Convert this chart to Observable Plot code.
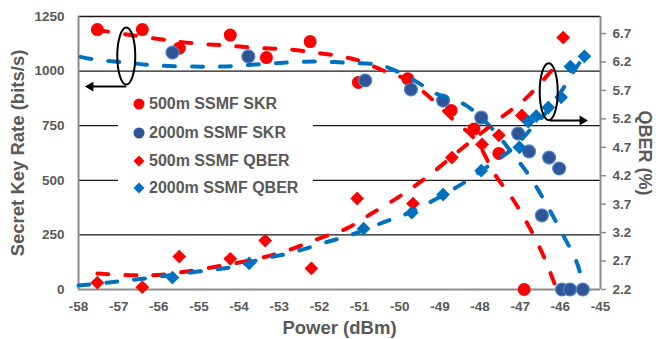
<!DOCTYPE html>
<html><head><meta charset="utf-8">
<script src="https://cdn.jsdelivr.net/npm/d3@7"></script>
<script src="https://cdn.jsdelivr.net/npm/@observablehq/plot@0.6"></script>
<style>
body{margin:0;background:#fff;}
#wrap{position:relative;width:656px;height:339px;font-family:"Liberation Sans",Arial,sans-serif;}
#legend{position:absolute;left:118px;top:92px;width:195px;height:108px;background:#fff;}
.row{position:absolute;left:0;height:22px;display:flex;align-items:center;font-weight:bold;font-size:16px;color:#595959;white-space:nowrap;}
.row svg{margin-right:3px;}
</style></head><body><div id="wrap"></div>
<script>
// ---- axes ----
const xTicks = [-58,-57,-56,-55,-54,-53,-52,-51,-50,-49,-48,-47,-46,-45];
const skrTicks = [0,250,500,750,1000,1250];
const qberTicks = [2.2,2.7,3.2,3.7,4.2,4.7,5.2,5.7,6.2,6.7];
const Q_MIN = 2.2, Q_MAX = 7.0, SKR_MAX = 1250;

// ---- measured points ----
const p500Skr = [-57.53,-56.41,-55.49,-54.22,-53.32,-52.23,-51.03,-49.8,-48.72,-48.15,-47.53,-46.9];
const v500Skr = [1190,1190,1105,1165,1062,1135,948,965,820,735,623,0];

const p2000Skr = [-55.66,-53.77,-50.86,-49.72,-48.92,-47.97,-47.05,-46.78,-46.46,-46.28,-46.03,-45.96,-45.76,-45.44];
const v2000Skr = [1085,1067,957,916,865,787,714,632,339,604,554,0,0,0];

const p500Q = [-57.53,-56.41,-55.49,-54.22,-53.35,-52.2,-51.06,-49.67,-48.7,-47.95,-47.53,-46.96,-45.93];
const v500Q = [2.32,2.24,2.78,2.74,3.06,2.57,3.80,3.71,4.52,4.75,4.91,5.26,6.63];

const p2000Q = [-55.66,-53.75,-50.9,-49.7,-48.92,-47.97,-47.02,-46.8,-46.6,-46.3,-45.98,-45.75,-45.4];
const v2000Q = [2.41,2.66,3.27,3.55,3.87,4.29,4.7,5.15,5.25,5.4,5.58,6.12,6.3];

// ---- trend lines ----
const pFit500Skr = [-57.53,-55.81,-55.06,-54.32,-53.52,-52.73,-51.96,-51.31,-50.99,-50.44,-49.79,-49.19,-48.70,-48.10,-47.63,-47.18,-46.78,-46.39,-46.12];
const vFit500Skr = [1188,1142,1126,1117,1106,1099,1081,1062,1046,1005,957,870,783,682,527,412,288,142,14];

const pFit2000Skr = [-57.95,-57.60,-56.81,-56.08,-55.21,-54.42,-53.60,-52.80,-52.03,-51.23,-50.46,-49.72,-49.09,-48.34,-47.70,-47.23,-46.76,-46.33,-45.94,-45.59,-45.46];
const vFit2000Skr = [1065,1053,1039,1026,1021,1021,1030,1039,1044,1037,1026,966,897,842,737,632,517,385,252,124,41];

const pFit500Q = [-57.53,-56.68,-55.94,-54.84,-53.55,-52.78,-52.00,-51.33,-50.69,-50.04,-49.37,-48.45,-47.50,-46.86,-46.18];
const vFit500Q = [2.48,2.45,2.46,2.57,2.74,2.89,3.10,3.27,3.54,3.82,4.15,4.68,5.21,5.56,6.08];

const pFit2000Q = [-58.0,-57.30,-56.51,-55.19,-54.22,-53.40,-52.68,-51.93,-51.18,-50.41,-49.69,-48.95,-48.35,-47.60,-47.18,-46.76,-46.31,-45.96,-45.59,-45.39];
const vFit2000Q = [2.27,2.32,2.38,2.50,2.59,2.74,2.85,3.01,3.17,3.38,3.57,3.85,4.10,4.47,4.68,5.0,5.35,5.7,6.12,6.31];

// ---- annotations (data units on the left axis) ----
const ellipseX = [-56.81,-46.29];
const ellipseY = [1069,906];
const arrowX1 = [-56.81,-46.26];
const arrowX2 = [-57.7,-45.45];
const arrowY = [929,774];
const arrowRot = [-90,90];

// ---- legend ----
const legendLabels = ["500m SSMF SKR","2000m SSMF SKR","500m SSMF QBER","2000m SSMF QBER"];
const legendColors = ["#FF0000","#2E5597","#FF0000","#0070C0"];
const legendShapes = ["circle","circle","diamond","diamond"];

const RED = "#FF0000", DBLUE = "#2E5597", BLUE = "#0070C0";
const qToY = q => (q - Q_MIN) / (Q_MAX - Q_MIN) * SKR_MAX;
const yToQ = y => Q_MIN + y / SKR_MAX * (Q_MAX - Q_MIN);

const zip = (xs, ys, f = d => d) => xs.map((x, i) => ({x, y: f(ys[i])}));

const s500 = zip(p500Skr, v500Skr);
const s2000 = zip(p2000Skr, v2000Skr);
const q500 = zip(p500Q, v500Q, qToY);
const q2000 = zip(p2000Q, v2000Q, qToY);
const f500 = zip(pFit500Skr, vFit500Skr);
const f2000 = zip(pFit2000Skr, vFit2000Skr);
const fq500 = zip(pFit500Q, vFit500Q, qToY);
const fq2000 = zip(pFit2000Q, vFit2000Q, qToY);
const ellipses = ellipseX.map((x, i) => ({x, y: ellipseY[i]}));
const arrows = arrowX1.map((x1, i) => ({x1, x2: arrowX2[i], y: arrowY[i], rot: arrowRot[i]}));

const ellipseSymbol = {
  draw(ctx) {
    const rx = 9, ry = 28.5, k = 0.5523;
    ctx.moveTo(rx, 0);
    ctx.bezierCurveTo(rx, k*ry, k*rx, ry, 0, ry);
    ctx.bezierCurveTo(-k*rx, ry, -rx, k*ry, -rx, 0);
    ctx.bezierCurveTo(-rx, -k*ry, -k*rx, -ry, 0, -ry);
    ctx.bezierCurveTo(k*rx, -ry, rx, -k*ry, rx, 0);
    ctx.closePath();
  }
};

const dash = {strokeWidth: 4, strokeDasharray: "11,17", strokeLinecap: "round", curve: "catmull-rom"};

const chart = Plot.plot({
  width: 656, height: 339,
  marginLeft: 78, marginRight: 56, marginTop: 16, marginBottom: 50,
  style: {fontFamily: "'Liberation Sans', Arial, sans-serif", fontSize: "13.5px", fontWeight: "bold", color: "#595959", background: "#fff"},
  x: {domain: [-58, -45]},
  y: {domain: [0, SKR_MAX]},
  marks: [
    Plot.ruleY(skrTicks.filter(d => d > 0), {stroke: "#1a1a1a", strokeWidth: 1.3}),
    Plot.ruleY([0], {stroke: "#8c8c8c", strokeWidth: 2}),
    Plot.ruleX([-58, -45], {stroke: "#8c8c8c", strokeWidth: 2}),
    Plot.axisX({ticks: xTicks, tickFormat: d => String(d), tickSize: 0, tickPadding: 12, label: null}),
    Plot.axisY({ticks: skrTicks, tickFormat: d => String(d), tickSize: 0, tickPadding: 14, label: null}),
    Plot.axisY({anchor: "right", ticks: qberTicks.map(qToY), tickFormat: d => yToQ(d).toFixed(1), tickSize: 5, tickPadding: 7, stroke: "#8c8c8c", strokeWidth: 1.5, label: null}),
    Plot.text(["Secret Key Rate (bits/s)"], {frameAnchor: "left", textAnchor: "middle", lineAnchor: "middle", dx: -60, rotate: -90, fontSize: 18.5, fill: "#595959"}),
    Plot.text(["Power (dBm)"], {frameAnchor: "bottom", textAnchor: "middle", lineAnchor: "middle", dy: 39, fontSize: 18.5, fill: "#595959"}),
    Plot.text(["QBER (%)"], {frameAnchor: "right", textAnchor: "middle", lineAnchor: "middle", dx: 44, rotate: 90, fontSize: 18, fill: "#595959"}),
    Plot.dot(s500, {x: "x", y: "y", r: 6.5, fill: RED}),
    Plot.dot(s2000, {x: "x", y: "y", r: 6.5, fill: DBLUE, stroke: "#4f86c6", strokeWidth: 1.2}),
    Plot.dot(q500, {x: "x", y: "y", r: 6.2, symbol: "diamond2", fill: RED}),
    Plot.dot(q2000, {x: "x", y: "y", r: 6.2, symbol: "diamond2", fill: BLUE}),
    Plot.line(f500, {x: "x", y: "y", stroke: RED, ...dash}),
    Plot.line(f2000, {x: "x", y: "y", stroke: BLUE, ...dash}),
    Plot.line(fq500, {x: "x", y: "y", stroke: RED, ...dash}),
    Plot.line(fq2000, {x: "x", y: "y", stroke: BLUE, ...dash}),
    Plot.dot(ellipses, {x: "x", y: "y", symbol: ellipseSymbol, r: 5, fill: "none", stroke: "#000", strokeWidth: 2}),
    Plot.link(arrows, {x1: "x1", x2: "x2", y1: "y", y2: "y", stroke: "#000", strokeWidth: 2}),
    Plot.dot(arrows, {x: "x2", y: "y", symbol: "triangle", rotate: "rot", r: 3.6, fill: "#000"})
  ]
});

const wrap = document.getElementById("wrap");
wrap.appendChild(chart);

const legend = document.createElement("div");
legend.id = "legend";
const rowTops = [1, 30, 58, 85];
legendLabels.forEach((label, i) => {
  const row = document.createElement("div");
  row.className = "row";
  row.style.top = rowTops[i] + "px";
  row.style.left = "14px";
  const shape = legendShapes[i] === "circle"
    ? `<circle cx="7" cy="7" r="5.5" fill="${legendColors[i]}"/>`
    : `<path d="M7,1.5L12.5,7L7,12.5L1.5,7Z" fill="${legendColors[i]}"/>`;
  row.innerHTML = `<svg width="14" height="14">${shape}</svg><span>${label}</span>`;
  legend.appendChild(row);
});
wrap.appendChild(legend);
</script>
</body></html>
